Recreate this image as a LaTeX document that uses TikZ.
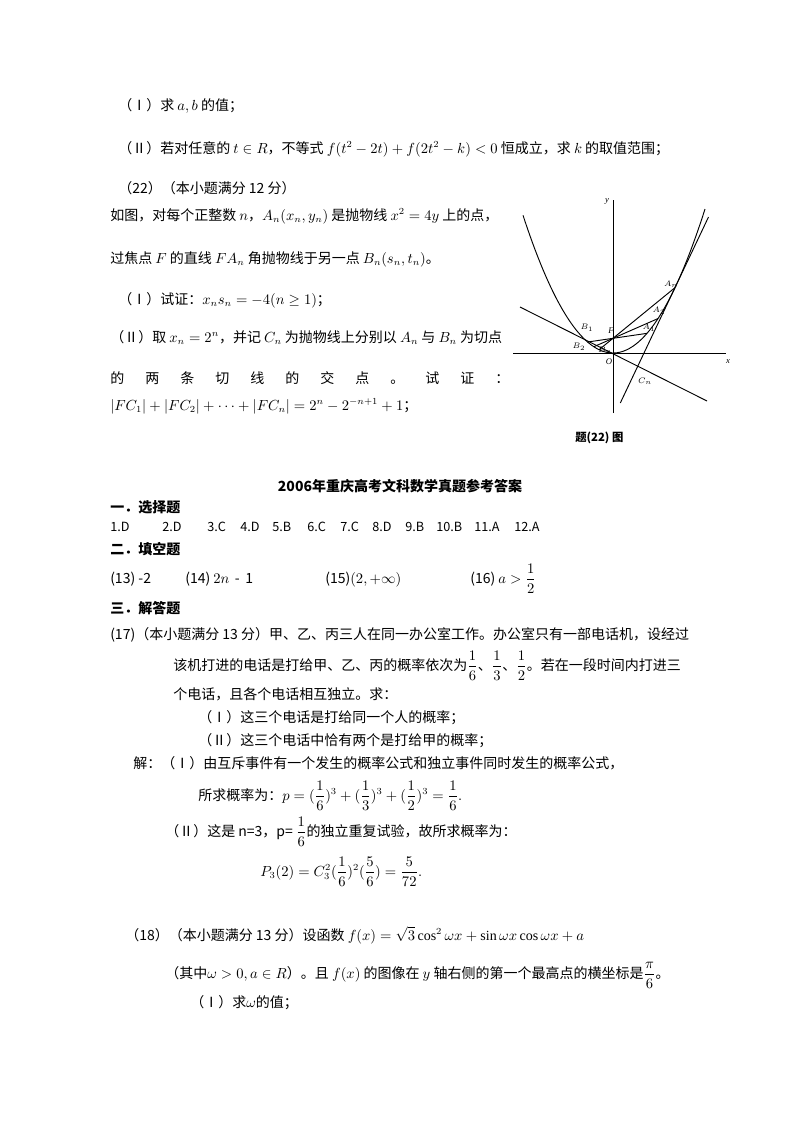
\documentclass[tikz,border=0pt]{standalone}
\usepackage{amsmath}
\usepackage{fontspec}
\setmainfont{Liberation Serif}
\newfontfamily\cjk{Noto Sans CJK SC}
\tikzset{
  txt/.style={anchor=base west, inner sep=0pt, font=\cjk\fontsize{10.5}{12}\selectfont},
  hd/.style={txt, font=\cjk\bfseries\fontsize{10.5}{12}\selectfont},
  lbl/.style={inner sep=0pt, font=\fontsize{6.5}{7}\selectfont\itshape},
  crv/.style={line width=0.7pt}
}
\begin{document}
\begin{tikzpicture}[x=0.75pt,y=-0.75pt]
\useasboundingbox (0,0) rectangle (800,1132);
% problem 21 tail
\node[txt] (l1) at (118,110) {（Ⅰ）求 $a,b$ 的值；};
\node[txt] (l2) at (118,153) {（Ⅱ）若对任意的 $t\in R$，不等式 $f(t^2-2t)+f(2t^2-k)<0$ 恒成立，求 $k$ 的取值范围；};
\node[txt] (l3) at (118,193) {（22）（本小题满分 12 分）};
\node[txt] (l4) at (110,220) {如图，对每个正整数 $n$，$A_n(x_n,y_n)$ 是抛物线 $x^2=4y$ 上的点，};
\node[txt] (l5) at (110,263) {过焦点 $F$ 的直线 $FA_n$ 角抛物线于另一点 $B_n(s_n,t_n)$。};
\node[txt] (l6) at (118,304) {（Ⅰ）试证：$x_ns_n=-4(n\ge1)$；};
\node[txt] (l7) at (110,342) {（Ⅱ）取 $x_n=2^n$，并记 $C_n$ 为抛物线上分别以 $A_n$ 与 $B_n$ 为切点};
\foreach \c [count=\i from 0] in {的,两,条,切,线,的,交,点,。,试,证,：}
  \node[txt] (w\i) at (110+35*\i,383) {\c};
\node[txt] (l9) at (110,410) {$|FC_1|+|FC_2|+\cdots+|FC_n|=2^n-2^{-n+1}+1$；};
% figure
\begin{scope}[shift={(613,353)},yscale=-1]
  \coordinate (O) at (0,0);
  \coordinate (F) at (0,14.7);
  \draw[crv] (-100,0) -- (113,0) coordinate (xe);
  \draw[crv] (0,-60) -- (0,153) coordinate (ye);
  \draw[crv,domain=-90:92,samples=80] plot (\x,{\x*\x/58.8});
  \foreach \a/\nm in {62/n,45/2,34/1}{
    \pgfmathsetmacro\b{-864/\a}
    \draw[crv] (\b,{\b*\b/58.8}) coordinate (B\nm) -- (\a,{\a*\a/58.8}) coordinate (A\nm);
  }
  \draw[crv] (7.3,-50) -- (95.5,136);
  \draw[crv] (-93,46) -- (94,-48);
  \coordinate (Cn) at (24,-14.7);
\end{scope}
\node[lbl] (ty) at (607,201) {y};
\node[lbl] (tx) at (728,362) {x};
\node[lbl] (tO) at (609,362) {O};
\node[lbl] (tF) at (611,331) {F};
\node[lbl] (tB1) at (587,328) {$B_1$};
\node[lbl] (tB2) at (579,347) {$B_2$};
\node[lbl] (tBn) at (605,350) {$B_n$};
\node[lbl] (tAn) at (671,284) {$A_n$};
\node[lbl] (tA2) at (659,311) {$A_2$};
\node[lbl] (tA1) at (649,328) {$A_1$};
\node[lbl] (tCn) at (645,381) {$C_n$};
\node[txt,font=\cjk\bfseries\fontsize{8.5}{10}\selectfont] (cap) at (575,441) {题(22) 图};
% answers
\node[inner sep=0pt,anchor=base,font=\cjk\bfseries\fontsize{10.5}{12}\selectfont] (title) at (400,491) {2006年重庆高考文科数学真题参考答案};
\node[hd] (h1) at (110,512) {一．选择题};
\foreach \t/\xx in {1.D/110,2.D/162,3.C/207,4.D/240,5.B/272,6.C/307,7.C/340,8.D/372,9.B/405,10.B/436,11.A/474,12.A/514}
  \node[txt,font=\cjk\fontsize{9.5}{11}\selectfont] at (\xx,531) {\t};
\node[hd] (h2) at (110,554) {二．填空题};
\node[txt] (f13) at (110,583) {(13) -2};
\node[txt] (f14) at (185,583) {(14) $2n$ \,-\, 1};
\node[txt] (f15) at (325,583) {(15)$(2,+\infty)$};
\node[txt] (f16) at (470,583) {(16) $a>\dfrac12$};
\node[hd] (h3) at (110,613) {三．解答题};
\node[txt] (p1) at (110,639) {(17)（本小题满分 13 分）甲、乙、丙三人在同一办公室工作。办公室只有一部电话机，设经过};
\node[txt] (p2) at (173,670) {该机打进的电话是打给甲、乙、丙的概率依次为$\dfrac16$、$\dfrac13$、$\dfrac12$。若在一段时间内打进三};
\node[txt] (p3) at (173,699) {个电话，且各个电话相互独立。求：};
\node[txt] (p4) at (198,722) {（Ⅰ）这三个电话是打给同一个人的概率；};
\node[txt] (p5) at (198,745) {（Ⅱ）这三个电话中恰有两个是打给甲的概率；};
\node[txt] (p6) at (133,768) {解：（Ⅰ）由互斥事件有一个发生的概率公式和独立事件同时发生的概率公式，};
\node[txt] (p7) at (198,800) {所求概率为：$p=(\dfrac16)^3+(\dfrac13)^3+(\dfrac12)^3=\dfrac16.$};
\node[txt] (p8) at (165,836) {（Ⅱ）这是 n=3，p= $\dfrac16$的独立重复试验，故所求概率为：};
\node[txt] (p9) at (260,876) {$P_3(2)=C_3^2(\dfrac16)^2(\dfrac56)=\dfrac5{72}.$};
\node[txt] (q1) at (125,940) {（18）（本小题满分 13 分）设函数 $f(x)=\sqrt3\cos^2\omega x+\sin\omega x\cos\omega x+a$};
\node[txt] (q2) at (165,978) {（其中$\omega>0,a\in R$）。且 $f(x)$ 的图像在 $y$ 轴右侧的第一个最高点的横坐标是$\dfrac{\pi}6$。};
\node[txt] (q3) at (190,1007) {（Ⅰ）求$\omega$的值；};
\end{tikzpicture}
\end{document}
